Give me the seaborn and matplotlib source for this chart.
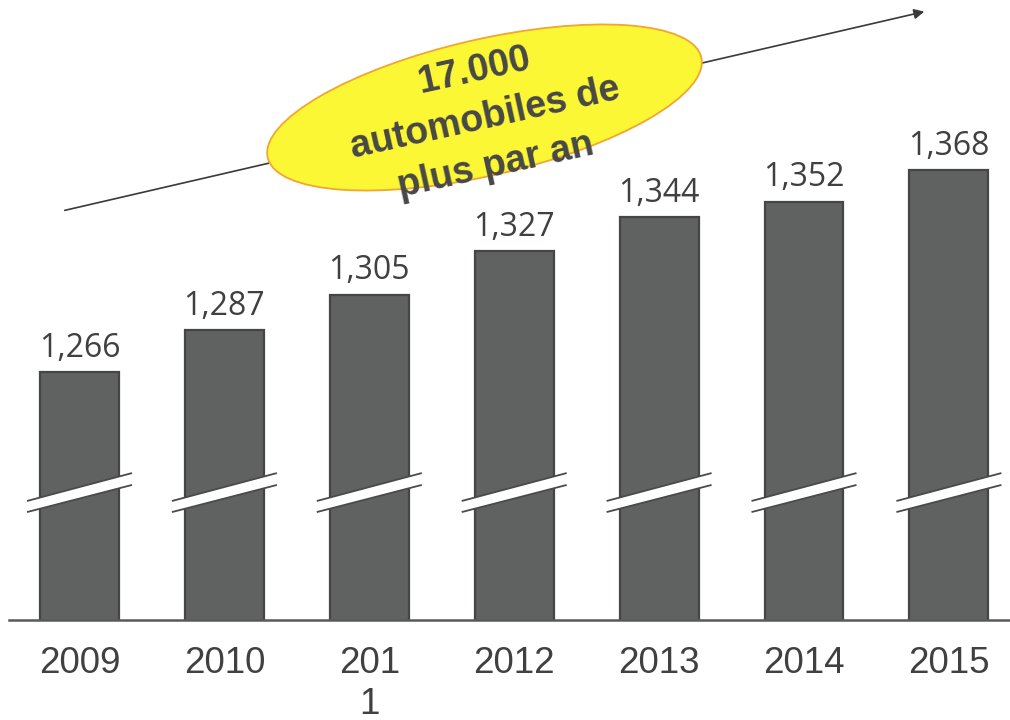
import numpy as np
import pandas as pd
import matplotlib
matplotlib.use("Agg")
import matplotlib.pyplot as plt
import seaborn as sns
from matplotlib.patches import Ellipse, Polygon, FancyArrowPatch

# Data
years = ["2009", "2010", "2011", "2012", "2013", "2014", "2015"]
year_labels = ["2009", "2010", "201\n1", "2012", "2013", "2014", "2015"]
values = [1266, 1287, 1305, 1327, 1344, 1352, 1368]
value_labels = ["1,266", "1,287", "1,305", "1,327", "1,344", "1,352", "1,368"]
callout_text = "17.000\nautomobiles de\nplus par an"

BAR_COLOR = "#5f6260"
EDGE_COLOR = "#454545"
TEXT_COLOR = "#404040"

sns.set_theme(style="white")
plt.rcParams["font.family"] = ["Liberation Sans", "DejaVu Sans"]

df = pd.DataFrame({"year": years, "value": values})

fig = plt.figure(figsize=(10.1, 7.2), dpi=100)
ax = fig.add_axes([0, 100 / 720, 1, 620 / 720])

sns.barplot(
    data=df,
    x="year",
    y="value",
    color=BAR_COLOR,
    saturation=1,
    width=0.545,
    edgecolor=EDGE_COLOR,
    linewidth=1.6,
    ax=ax,
)

ax.set_xlim(-0.5487, 6.4217)
ax.set_ylim(1140.7, 1453.8)

# Axis styling
for side in ["top", "right", "left"]:
    ax.spines[side].set_visible(False)
ax.spines["bottom"].set_color("#595959")
ax.spines["bottom"].set_linewidth(1.8)
ax.spines["bottom"].set_bounds(-0.4866, 6.4217)
ax.set_yticks([])
ax.set_xlabel("")
ax.set_ylabel("")
ax.set_xticks(range(len(years)))
ax.set_xticklabels(year_labels, fontsize=26.5, color=TEXT_COLOR, linespacing=1.2)
ax.tick_params(axis="x", length=0, pad=19)

# Value labels above bars
for i, (v, lab) in enumerate(zip(values, value_labels)):
    ax.annotate(
        lab,
        xy=(i, v),
        xytext=(0, 11),
        textcoords="offset points",
        ha="center",
        va="baseline",
        fontsize=23,
        color=TEXT_COLOR,
        family=["Open Sans", "DejaVu Sans"],
    )

# Axis break marks across each bar
half = 0.545 / 2 + 0.0897
for i in range(len(years)):
    xl, xr = i - half, i + half
    up_l, up_r = 1200.8, 1214.9
    lo_l, lo_r = 1195.2, 1208.9
    band = Polygon(
        [(xl, lo_l), (xr, lo_r), (xr, up_r), (xl, up_l)],
        closed=True,
        facecolor="white",
        edgecolor="none",
        zorder=5,
    )
    ax.add_patch(band)
    ax.plot([xl, xr], [up_l, up_r], color="#4a4a4a", lw=1.3, zorder=6,
            solid_capstyle="butt")
    ax.plot([xl, xr], [lo_l, lo_r], color="#4a4a4a", lw=1.3, zorder=6,
            solid_capstyle="butt")

# Trend arrow
arrow = FancyArrowPatch(
    (0.62, 5.09),
    (9.27, 7.09),
    transform=fig.dpi_scale_trans,
    arrowstyle="-|>,head_length=6,head_width=3",
    color="#3a3a3a",
    lw=1.2,
    zorder=1,
)
fig.add_artist(arrow)

# Yellow callout ellipse
ell = Ellipse(
    (4.845, 6.125),
    width=4.45,
    height=1.36,
    angle=13,
    transform=fig.dpi_scale_trans,
    facecolor="#fcf734",
    edgecolor="#f0a630",
    lw=1.3,
    zorder=2,
)
fig.add_artist(ell)

fig.text(
    4.85,
    6.02,
    callout_text,
    transform=fig.dpi_scale_trans,
    ha="center",
    va="center",
    rotation=12.5,
    multialignment="center",
    linespacing=1.45,
    fontsize=27,
    fontweight="bold",
    color="#474747",
    zorder=3,
)

fig.savefig("out.png", dpi=100)
